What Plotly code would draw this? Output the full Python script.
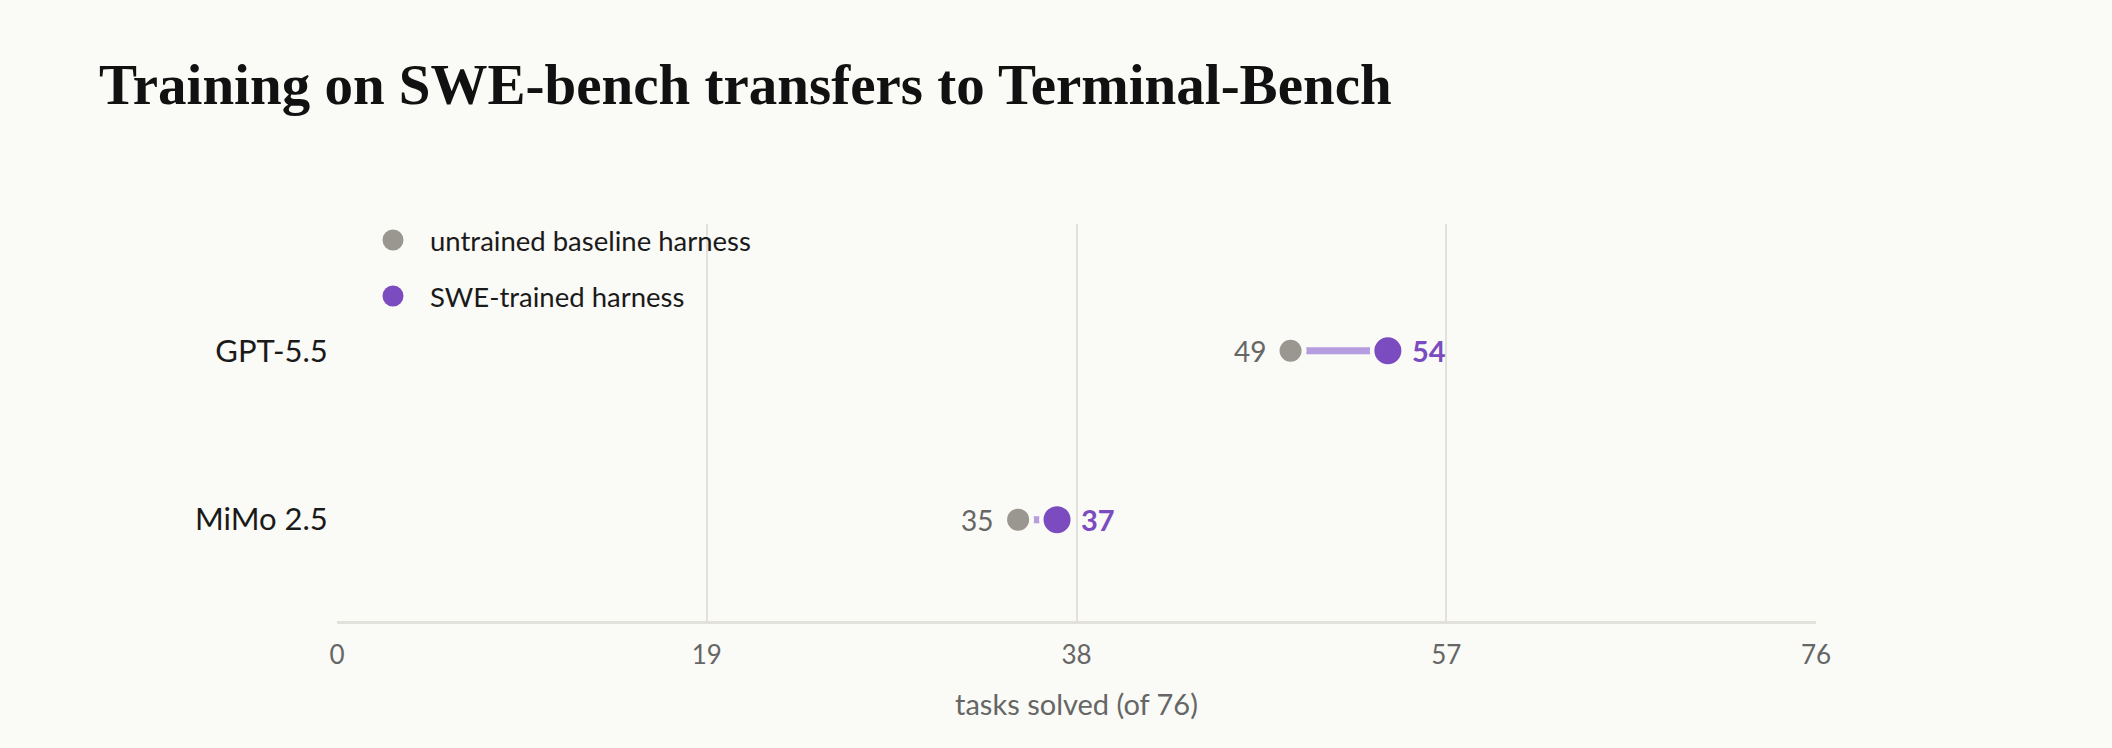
import plotly.graph_objects as go

models = ["MiMo 2.5", "GPT-5.5"]
baseline = [35, 49]
trained = [37, 54]
x_ticks = [0, 19, 38, 57, 76]
series_names = ["untrained baseline harness", "SWE-trained harness"]

BG = "#fafaf6"
GRAY = "#9a9790"
PURPLE = "#7b4bc0"
LIGHT_PURPLE = "#b59ddf"
GRID = "#e3e1dc"
SANS = "Lato, 'Source Sans Pro', sans-serif"

W, H = 2112, 748
PL, PR, PT, PB = 337, 1816, 224, 621
PW, PH = PR - PL, PB - PT

def px(x):
    return (x - PL) / PW

def py(y):
    return (PB - y) / PH

fig = go.Figure()

# connector lines
for m, b, t in zip(models, baseline, trained):
    fig.add_trace(go.Scatter(x=[b, t], y=[m, m], mode="lines",
                             line=dict(color=LIGHT_PURPLE, width=7),
                             hoverinfo="skip", showlegend=False))

fig.add_trace(go.Scatter(x=baseline, y=models, mode="markers", name=series_names[0],
                         marker=dict(size=27, color=GRAY, line=dict(color=BG, width=5)),
                         showlegend=False))
fig.add_trace(go.Scatter(x=trained, y=models, mode="markers", name=series_names[1],
                         marker=dict(size=31.5, color=PURPLE, line=dict(color=BG, width=4.5)),
                         showlegend=False))

annotations = []
for m, b, t in zip(models, baseline, trained):
    annotations.append(dict(x=b, y=m, xref="x", yref="y", text=str(b), showarrow=False,
                            xanchor="right", xshift=-23, yshift=0,
                            font=dict(family=SANS, size=28, color="#666666")))
    annotations.append(dict(x=t, y=m, xref="x", yref="y", text="<b>%d</b>" % t, showarrow=False,
                            xanchor="left", xshift=22, yshift=0,
                            font=dict(family=SANS, size=29, color=PURPLE)))

# legend (manual)
leg_colors = [GRAY, PURPLE]
leg_y = [240, 296]
shapes = []
for name, c, yy in zip(series_names, leg_colors, leg_y):
    shapes.append(dict(type="circle", xref="paper", yref="paper",
                       x0=px(393 - 10.5), x1=px(393 + 10.5),
                       y0=py(yy + 10.5), y1=py(yy - 10.5),
                       fillcolor=c, line=dict(width=0)))
    annotations.append(dict(x=px(428), y=py(yy), xref="paper", yref="paper",
                            text=name, showarrow=False, xanchor="left", yanchor="middle",
                            font=dict(family=SANS, size=27.5, color="#1a1a1a")))

# title
annotations.append(dict(x=px(97), y=py(85), xref="paper", yref="paper",
                        text="<b>Training on SWE-bench transfers to Terminal-Bench</b>",
                        showarrow=False, xanchor="left", yanchor="middle",
                        font=dict(family="'Liberation Serif', serif", size=57, color="#111111")))

fig.update_layout(
    width=W, height=H,
    paper_bgcolor=BG, plot_bgcolor=BG,
    margin=dict(l=PL, r=W - PR, t=PT, b=H - PB),
    showlegend=False,
    annotations=annotations,
    shapes=shapes,
    xaxis=dict(range=[0, 76], tickvals=x_ticks, ticktext=[str(v) for v in x_ticks],
               showgrid=True, gridcolor=GRID, gridwidth=2, zeroline=False,
               showline=True, linecolor=GRID, linewidth=3,
               ticks="outside", ticklen=9, tickcolor="rgba(0,0,0,0)",
               tickfont=dict(family=SANS, size=26, color="#666666"),
               title=dict(text="tasks solved (of 76)", standoff=26,
                          font=dict(family=SANS, size=29, color="#666666"))),
    yaxis=dict(type="category", categoryorder="array", categoryarray=models,
               range=[-0.6, 1.75], showgrid=False, zeroline=False, showline=False,
               ticks="outside", ticklen=2, tickcolor="rgba(0,0,0,0)",
               tickfont=dict(family=SANS, size=31, color="#1a1a1a")),
)

fig.write_html("out.html")
